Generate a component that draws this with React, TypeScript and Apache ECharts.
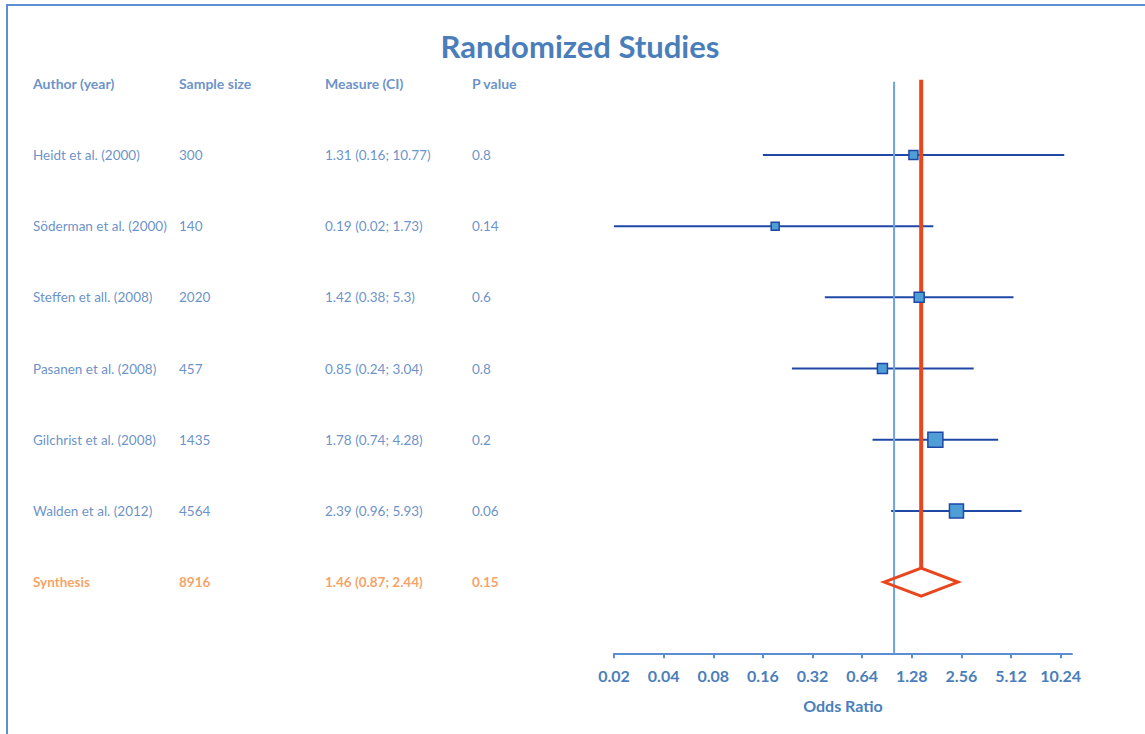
import React, { useEffect, useRef } from "react";
import * as echarts from "echarts";

const authors = [
  "Heidt et al. (2000)",
  "Söderman et al. (2000)",
  "Steffen et all. (2008)",
  "Pasanen et al. (2008)",
  "Gilchrist et al. (2008)",
  "Walden et al. (2012)",
];
const sampleSizes = [300, 140, 2020, 457, 1435, 4564];
const estimates = [1.31, 0.19, 1.42, 0.85, 1.78, 2.39];
const lowerCI = [0.16, 0.02, 0.38, 0.24, 0.74, 0.96];
const upperCI = [10.77, 1.73, 5.3, 3.04, 4.28, 5.93];
const pValues = ["0.8", "0.14", "0.6", "0.8", "0.2", "0.06"];
const weights = [9, 8, 10, 10, 15, 14];

const synthesisLabel = "Synthesis";
const synthesisN = 8916;
const synthesisEst = 1.46;
const synthesisLo = 0.87;
const synthesisHi = 2.44;
const synthesisP = "0.15";

const headers = ["Author (year)", "Sample size", "Measure (CI)", "P value"];
const tickValues = [0.02, 0.04, 0.08, 0.16, 0.32, 0.64, 1.28, 2.56, 5.12, 10.24];
const nullValue = 1;

const BLUE_TEXT = "#4375bb";
const TITLE_BLUE = "#4a7ebb";
const ORANGE = "#f58a3c";
const RED = "#e8461c";
const CI_BLUE = "#1f48a6";
const SQ_FILL = "#4f9fd6";
const AXIS_BLUE = "#5b8fd1";
const REF_BLUE = "#6ea2dc";

const colX = [33, 179, 325, 472];

export default function App() {
  const ref = useRef<HTMLDivElement>(null);
  useEffect(() => {
    if (!ref.current) return;
    const chart = echarts.init(ref.current, null, { renderer: "svg" });
    const nRows = authors.length;
    const synthRow = nRows + 1;

    const measure = (e: number, l: number, h: number) => `${e} (${l}; ${h})`;

    const tableSeries: any[] = [];
    const headerData = headers.map((h, i) => [colX[i], 0, h]);
    tableSeries.push({
      type: "scatter",
      xAxisIndex: 1,
      yAxisIndex: 1,
      symbolSize: 0,
      silent: true,
      data: headerData,
      label: {
        show: true,
        position: "right",
        distance: 0,
        formatter: (p: any) => p.data[2],
        color: BLUE_TEXT,
        fontWeight: "bold",
        fontSize: 14,
        fontFamily: "Lato",
      },
    });
    const bodyData: any[] = [];
    authors.forEach((a, i) => {
      const row = i + 1;
      bodyData.push([colX[0], row, a]);
      bodyData.push([colX[1], row, String(sampleSizes[i])]);
      bodyData.push([colX[2], row, measure(estimates[i], lowerCI[i], upperCI[i])]);
      bodyData.push([colX[3], row, pValues[i]]);
    });
    tableSeries.push({
      type: "scatter",
      xAxisIndex: 1,
      yAxisIndex: 1,
      symbolSize: 0,
      silent: true,
      data: bodyData,
      label: {
        show: true,
        position: "right",
        distance: 0,
        formatter: (p: any) => p.data[2],
        color: BLUE_TEXT,
        fontSize: 13.5,
        fontFamily: "Lato",
      },
    });
    tableSeries.push({
      type: "scatter",
      xAxisIndex: 1,
      yAxisIndex: 1,
      symbolSize: 0,
      silent: true,
      data: [
        [colX[0], synthRow, synthesisLabel],
        [colX[1], synthRow, String(synthesisN)],
        [colX[2], synthRow, measure(synthesisEst, synthesisLo, synthesisHi)],
        [colX[3], synthRow, synthesisP],
      ],
      label: {
        show: true,
        position: "right",
        distance: 0,
        formatter: (p: any) => p.data[2],
        color: ORANGE,
        fontWeight: "bold",
        fontSize: 13.5,
        fontFamily: "Lato",
      },
    });

    const studyData = authors.map((_, i) => [estimates[i], i + 1, lowerCI[i], upperCI[i], weights[i]]);

    const option: any = {
      animation: false,
      backgroundColor: "#ffffff",
      textStyle: { fontFamily: "Lato" },
      graphic: [
        {
          type: "rect",
          shape: { x: 7, y: 5, width: 1300, height: 900 },
          style: { fill: "none", stroke: AXIS_BLUE, lineWidth: 2 },
          silent: true,
        },
        {
          type: "text",
          x: 580,
          y: 46,
          style: {
            text: "Randomized Studies",
            fill: TITLE_BLUE,
            font: "bold 31px Lato",
            textAlign: "center",
            textVerticalAlign: "middle",
          },
        },
      ],
      grid: [
        { left: 614, right: 73, top: 83.8, bottom: 80.7 },
        { left: 0, right: 0, top: 83.8, bottom: 80.7 },
      ],
      xAxis: [
        {
          type: "log",
          logBase: 2,
          gridIndex: 0,
          position: "bottom",
          min: 0.02,
          max: 12,
          axisLine: { show: true, onZero: false, lineStyle: { color: AXIS_BLUE, width: 2 } },
          axisTick: {
            show: true,
            length: 5,
            customValues: tickValues,
            lineStyle: { color: AXIS_BLUE, width: 2 },
          },
          axisLabel: {
            customValues: tickValues,
            formatter: (v: number) => String(Number(Number(v).toPrecision(4))),
            color: TITLE_BLUE,
            fontWeight: "bold",
            fontSize: 16,
            margin: 14,
            fontFamily: "Lato",
          },
          splitLine: { show: false },
          minorTick: { show: false },
          name: "Odds Ratio",
          nameLocation: "middle",
          nameGap: 44,
          nameTextStyle: { color: TITLE_BLUE, fontWeight: "bold", fontSize: 16, fontFamily: "Lato" },
        },
        { type: "value", gridIndex: 1, min: 0, max: 1145, show: false },
      ],
      yAxis: [
        { type: "value", gridIndex: 0, min: 0, max: 8, inverse: true, show: false },
        { type: "value", gridIndex: 1, min: 0, max: 8, inverse: true, show: false },
      ],
      series: [
        ...tableSeries,
        {
          type: "custom",
          xAxisIndex: 0,
          yAxisIndex: 0,
          silent: true,
          z: 2,
          encode: { x: [0, 2, 3], y: 1 },
          data: studyData,
          renderItem: (params: any, api: any) => {
            const y = api.value(1);
            const l = api.coord([api.value(2), y]);
            const h = api.coord([api.value(3), y]);
            return {
              type: "line",
              shape: { x1: l[0], y1: l[1], x2: h[0], y2: h[1] },
              style: { stroke: CI_BLUE, lineWidth: 2 },
            };
          },
        },
        {
          type: "custom",
          xAxisIndex: 0,
          yAxisIndex: 0,
          silent: true,
          z: 3,
          data: [[nullValue, 0, 8]],
          encode: { x: 0, y: [1, 2] },
          renderItem: (params: any, api: any) => {
            const a = api.coord([api.value(0), api.value(1)]);
            const b = api.coord([api.value(0), api.value(2)]);
            return {
              type: "line",
              shape: { x1: a[0], y1: a[1] - 2, x2: b[0], y2: b[1] },
              style: { stroke: REF_BLUE, lineWidth: 2 },
            };
          },
        },
        {
          type: "custom",
          xAxisIndex: 0,
          yAxisIndex: 0,
          silent: true,
          z: 4,
          data: [[synthesisEst, synthRow, synthesisLo, synthesisHi]],
          encode: { x: [0, 2, 3], y: 1 },
          renderItem: (params: any, api: any) => {
            const y = api.value(1);
            const c = api.coord([api.value(0), y]);
            const l = api.coord([api.value(2), y]);
            const h = api.coord([api.value(3), y]);
            const top = api.coord([api.value(0), 0]);
            const hh = 14;
            return {
              type: "group",
              children: [
                {
                  type: "line",
                  shape: { x1: c[0], y1: top[1] - 4, x2: c[0], y2: c[1] - hh },
                  style: { stroke: RED, lineWidth: 4 },
                },
                {
                  type: "polygon",
                  shape: {
                    points: [
                      [l[0], c[1]],
                      [c[0], c[1] - hh],
                      [h[0], c[1]],
                      [c[0], c[1] + hh],
                    ],
                  },
                  style: { fill: "none", stroke: RED, lineWidth: 3, lineJoin: "miter" },
                },
              ],
            };
          },
        },
        {
          type: "custom",
          xAxisIndex: 0,
          yAxisIndex: 0,
          silent: true,
          z: 5,
          encode: { x: 0, y: 1 },
          data: studyData,
          renderItem: (params: any, api: any) => {
            const c = api.coord([api.value(0), api.value(1)]);
            const s = api.value(4);
            return {
              type: "rect",
              shape: { x: c[0] - s / 2, y: c[1] - s / 2, width: s, height: s },
              style: { fill: SQ_FILL, stroke: CI_BLUE, lineWidth: 1.5 },
            };
          },
        },
      ],
    };
    chart.setOption(option);
    return () => chart.dispose();
  }, []);
  return (
    <div
      ref={ref}
      style={{ position: "absolute", left: 0, top: 0, width: 1145, height: 734, background: "#fff" }}
    />
  );
}
